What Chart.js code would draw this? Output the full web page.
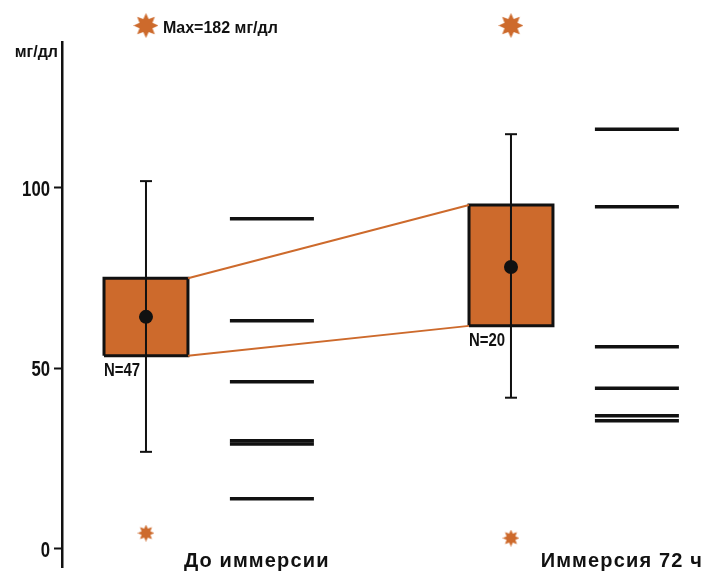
<!DOCTYPE html>
<html>
<head>
<meta charset="utf-8">
<script src="https://cdn.jsdelivr.net/npm/chart.js@4.4.1/dist/chart.umd.min.js"></script>
<style>
  html, body { margin: 0; padding: 0; background: #fff; }
  #wrap { width: 701px; height: 572px; }
</style>
</head>
<body>
<div id="wrap"><canvas id="c" width="701" height="572"></canvas></div>
<script>
// ---- data ----
const categories = ['До иммерсии', 'Иммерсия 72 ч'];
const groupPos = [0, 1];
const sampleSizes = [47, 20];
const meanValues = [64.3, 78.1];
const boxLow = [53.5, 61.8];
const boxHigh = [75.0, 95.3];
const whiskerLow = [26.9, 41.9];
const whiskerHigh = [101.9, 114.9];
const individualValues = [
  [91.5, 63.2, 46.3, 30.0, 29.1, 13.9],
  [116.3, 94.8, 56.0, 44.5, 36.9, 35.5]
];
const outlierLow = [4.4, 3.0];
const outlierHigh = [182, 145];
const yTicks = [0, 50, 100];
const yUnit = 'мг/дл';

// ---- layout / style ----
const OFFSCALE_Y = 145;          // where off-scale maxima are parked, above the axis
const BOX_HALF = 0.115;          // half box width, x units
const VALUES_OFFSET = 0.345;     // individual values drawn to the right of each box
const LABEL_OFFSET = 0.302;      // category label centre
const ORANGE = '#CD6A2C';
const INK = '#111';
const SANS = '"Liberation Sans", Arial, sans-serif';

function makeStar(size, color) {
  const c = document.createElement('canvas');
  c.width = c.height = size;
  const g = c.getContext('2d');
  const R = size / 2, r = R * 0.56, n = 8;
  g.beginPath();
  for (let i = 0; i < 2 * n; i++) {
    const a = -Math.PI / 2 + i * Math.PI / n;
    const rad = i % 2 ? r : R;
    g.lineTo(R + rad * Math.cos(a), R + rad * Math.sin(a));
  }
  g.closePath();
  g.fillStyle = color;
  g.fill();
  return c;
}
const bigStar = makeStar(25, ORANGE);
const smallStar = makeStar(17, ORANGE);

const datasets = [];

groupPos.forEach((g, i) => {
  // interquartile box
  datasets.push({
    type: 'line', order: 6,
    data: [
      {x: g - BOX_HALF, y: boxLow[i]}, {x: g + BOX_HALF, y: boxLow[i]},
      {x: g + BOX_HALF, y: boxHigh[i]}, {x: g - BOX_HALF, y: boxHigh[i]},
      {x: g - BOX_HALF, y: boxLow[i]}
    ],
    fill: 'shape', backgroundColor: ORANGE,
    borderColor: INK, borderWidth: 3, borderJoinStyle: 'miter',
    pointRadius: 0, tension: 0
  });
  // whisker with caps
  datasets.push({
    type: 'line', order: 3,
    data: [{x: g, y: whiskerLow[i]}, {x: g, y: whiskerHigh[i]}],
    borderColor: INK, borderWidth: 2,
    pointStyle: 'line', pointRadius: 6, pointBorderWidth: 2,
    pointBorderColor: INK, pointBackgroundColor: INK
  });
  // individual values
  datasets.push({
    type: 'scatter', order: 1,
    data: individualValues[i].map(v => ({x: g + VALUES_OFFSET, y: v})),
    pointStyle: 'line', pointRadius: 42, pointBorderWidth: 3.5,
    pointBorderColor: INK, pointBackgroundColor: INK
  });
});

// lines joining the boxes
for (let i = 0; i < groupPos.length - 1; i++) {
  [boxHigh, boxLow].forEach(arr => {
    datasets.push({
      type: 'line', order: 5,
      data: [{x: groupPos[i] + BOX_HALF, y: arr[i]}, {x: groupPos[i + 1] - BOX_HALF, y: arr[i + 1]}],
      borderColor: ORANGE, borderWidth: 2, pointRadius: 0
    });
  });
}

// means
datasets.push({
  type: 'scatter', order: 2,
  data: groupPos.map((g, i) => ({x: g, y: meanValues[i]})),
  pointRadius: 7, pointBackgroundColor: INK, pointBorderColor: INK, pointBorderWidth: 0
});

// outliers (the radius only widens the visibility margin; the star image sets the size)
datasets.push({
  type: 'scatter', order: 1, clip: false,
  data: groupPos.map((g, i) => ({x: g, y: Math.min(outlierHigh[i], OFFSCALE_Y)})),
  pointStyle: bigStar, pointRadius: 30
});
datasets.push({
  type: 'scatter', order: 1, clip: false,
  data: groupPos.map((g, i) => ({x: g, y: outlierLow[i]})),
  pointStyle: smallStar, pointRadius: 10
});

function spacedText(ctx, text, cx, baseline, spacing) {
  const chars = [...text];
  const widths = chars.map(ch => ctx.measureText(ch).width);
  const total = widths.reduce((a, b) => a + b, 0) + spacing * (chars.length - 1);
  let x = cx - total / 2;
  ctx.textAlign = 'left';
  chars.forEach((ch, k) => { ctx.fillText(ch, x, baseline); x += widths[k] + spacing; });
}

// condensed text: horizontally squeezed glyphs
function narrowText(ctx, text, x, baseline, align, squeeze) {
  ctx.save();
  ctx.translate(x, baseline);
  ctx.scale(squeeze, 1);
  ctx.textAlign = align;
  ctx.fillText(text, 0, 0);
  ctx.restore();
}

const annotations = {
  id: 'annotations',
  afterDatasetsDraw(chart) {
    const {ctx, chartArea, scales: {x, y}} = chart;
    ctx.save();
    ctx.fillStyle = INK;
    ctx.textBaseline = 'alphabetic';

    // unit above the axis
    ctx.font = 'bold 16px ' + SANS;
    ctx.textAlign = 'right';
    ctx.fillText(yUnit, chartArea.left - 4, 57);

    // y tick labels
    ctx.font = 'bold 22px ' + SANS;
    yTicks.forEach(v => {
      narrowText(ctx, String(v), chartArea.left - 12, y.getPixelForValue(v) + 8, 'right', 0.76);
    });

    // off-scale maximum note
    groupPos.forEach((g, i) => {
      if (outlierHigh[i] > OFFSCALE_Y) {
        ctx.font = 'bold 16px ' + SANS;
        ctx.textAlign = 'left';
        ctx.fillText('Max=' + outlierHigh[i] + ' ' + yUnit,
          x.getPixelForValue(g) + 17, y.getPixelForValue(OFFSCALE_Y) + 7);
      }
    });

    // sample sizes below boxes
    ctx.font = 'bold 18px ' + SANS;
    groupPos.forEach((g, i) => {
      narrowText(ctx, 'N=' + sampleSizes[i], x.getPixelForValue(g - BOX_HALF), y.getPixelForValue(boxLow[i]) + 20, 'left', 0.83);
    });

    // category names
    ctx.font = 'bold 20px ' + SANS;
    groupPos.forEach((g, i) => {
      spacedText(ctx, categories[i], x.getPixelForValue(g + LABEL_OFFSET), 567, 1.15);
    });
    ctx.restore();
  }
};

new Chart(document.getElementById('c'), {
  type: 'scatter',
  data: {datasets},
  options: {
    responsive: false,
    animation: false,
    events: [],
    devicePixelRatio: 1,
    layout: {autoPadding: false, padding: {top: 42, bottom: 5, left: 0, right: 0}},
    plugins: {legend: {display: false}, tooltip: {enabled: false}},
    scales: {
      x: {type: 'linear', min: -0.2301, max: 1.5206, display: false},
      y: {
        type: 'linear', min: -5, max: 140.44,
        afterBuildTicks: s => { s.ticks = yTicks.map(v => ({value: v})); },
        afterFit: s => { s.width = 62; },
        border: {display: true, color: INK, width: 2.5},
        grid: {display: true, drawOnChartArea: false, drawTicks: true, tickLength: 8, tickColor: INK, tickWidth: 2},
        ticks: {display: false}
      }
    }
  },
  plugins: [annotations]
});
</script>
</body>
</html>
